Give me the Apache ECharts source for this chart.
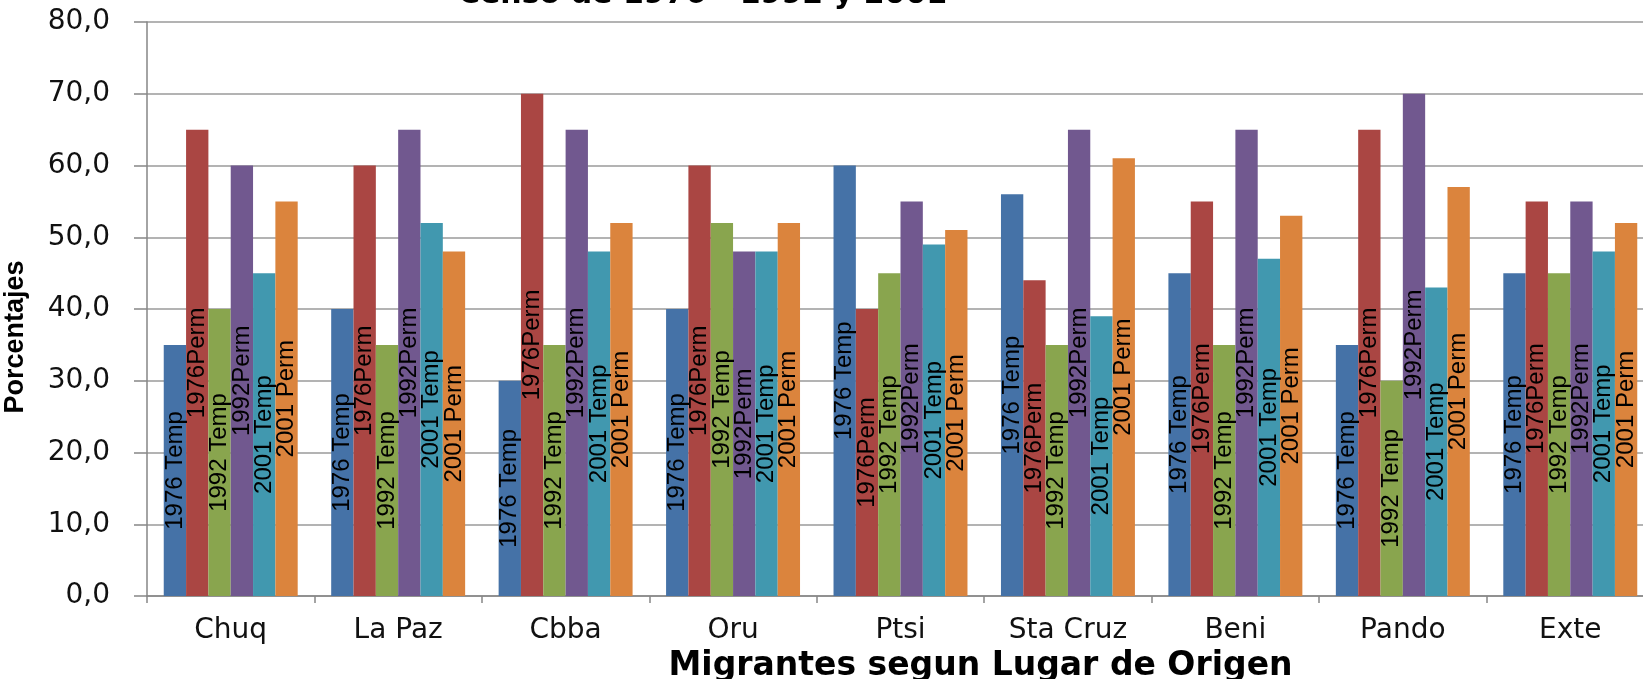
<!DOCTYPE html>
<html>
<head>
<meta charset="utf-8">
<script src="https://cdn.jsdelivr.net/npm/echarts@6/dist/echarts.min.js"></script>
<style>
html,body{margin:0;padding:0;background:#fff;overflow:hidden}
#c{width:1643px;height:679px}
</style>
</head>
<body>
<div id="c"></div>
<script>
const categories = ['Chuq', 'La Paz', 'Cbba', 'Oru', 'Ptsi', 'Sta Cruz', 'Beni', 'Pando', 'Exte'];
const seriesNames = ['1976 Temp', '1976Perm', '1992 Temp', '1992Perm', '2001 Temp', '2001 Perm'];
const temp1976 = [35, 40, 30, 40, 60, 56, 45, 35, 45];
const perm1976 = [65, 60, 70, 60, 40, 44, 55, 65, 55];
const temp1992 = [40, 35, 35, 52, 45, 35, 35, 30, 45];
const perm1992 = [60, 65, 65, 48, 55, 65, 65, 70, 55];
const temp2001 = [45, 52, 48, 48, 49, 39, 47, 43, 48];
const perm2001 = [55, 48, 52, 52, 51, 61, 53, 57, 52];
const titleText = 'Censo de 1976 - 1992 y 2001';
const xTitle = 'Migrantes segun Lugar de Origen';
const yTitle = 'Porcentajes';

const seriesData = [temp1976, perm1976, temp1992, perm1992, temp2001, perm2001];
const colors = ['#4572A7', '#AA4643', '#89A54E', '#71588F', '#4198AF', '#DB843D'];

const chart = echarts.init(document.getElementById('c'), null, {renderer: 'canvas'});
chart.setOption({
  animation: false,
  backgroundColor: '#fff',
  color: colors,
  title: {
    text: titleText,
    left: 453,
    top: -25,
    textStyle: {fontFamily: 'DejaVu Sans', fontWeight: 'bold', fontSize: 30, color: '#000'}
  },
  grid: {left: 147, right: -11, top: 22, bottom: 83, containLabel: false, outerBoundsMode: 'none'},
  xAxis: {
    type: 'category',
    data: categories,
    name: xTitle,
    nameLocation: 'middle',
    nameGap: 52,
    nameTextStyle: {fontFamily: 'DejaVu Sans', fontWeight: 'bold', fontSize: 33, color: '#000', padding: [0, 0, 0, 160]},
    axisLine: {show: true, lineStyle: {color: '#868686', width: 1.5}},
    axisTick: {show: true, length: 7, lineStyle: {color: '#868686', width: 1.5}},
    axisLabel: {fontFamily: 'DejaVu Sans', fontSize: 28, color: '#111', margin: 21, interval: 0},
    splitLine: {show: false}
  },
  yAxis: {
    type: 'value',
    min: 0,
    max: 80,
    interval: 10,
    name: yTitle,
    nameLocation: 'middle',
    nameRotate: 90,
    nameGap: 118,
    nameTextStyle: {fontFamily: 'Liberation Sans', fontWeight: 'bold', fontSize: 27, color: '#000', padding: [0, 56, 0, 0]},
    axisLine: {show: true, lineStyle: {color: '#868686', width: 1.5}},
    axisTick: {show: true, length: 13, lineStyle: {color: '#868686', width: 1.5}},
    axisLabel: {
      fontFamily: 'DejaVu Sans', fontSize: 28, color: '#111', margin: 37,
      formatter: v => v.toFixed(1).replace('.', ',')
    },
    splitLine: {show: true, lineStyle: {color: '#9a9a9a', width: 1.5}}
  },
  series: seriesNames.map((n, i) => ({
    name: n,
    type: 'bar',
    data: seriesData[i],
    barGap: '0%',
    barCategoryGap: '20%',
    itemStyle: {color: colors[i]},
    label: {
      show: true,
      position: 'inside',
      rotate: 90,
      formatter: '{a}',
      fontFamily: 'Liberation Sans',
      fontSize: 24,
      color: '#000'
    }
  }))
});
</script>
</body>
</html>
